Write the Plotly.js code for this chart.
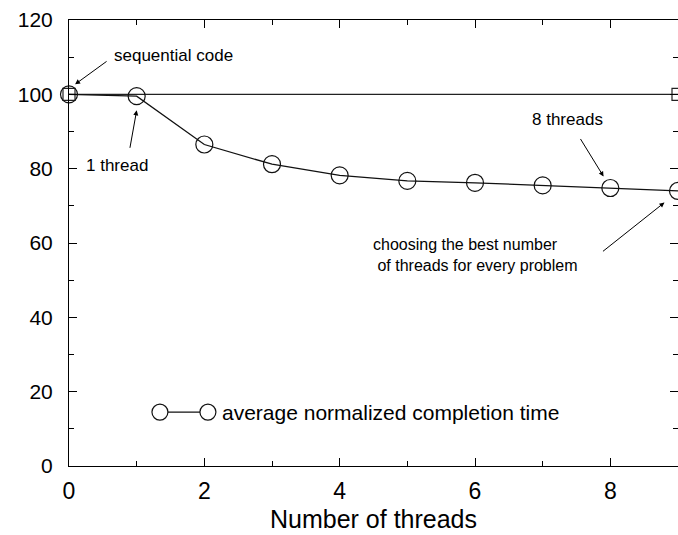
<!DOCTYPE html>
<html>
<head>
<meta charset="utf-8">
<script src="https://cdn.plot.ly/plotly-3.0.1.min.js"></script>
<style>html,body{margin:0;padding:0;background:#fff;}#chart{width:678px;height:535px;}</style>
</head>
<body>
<div id="chart"></div>
<script>
// Data
const threads = [0, 1, 2, 3, 4, 5, 6, 7, 8, 9];
const avgTime = [100, 99.5, 86.5, 81.2, 78.2, 76.7, 76.2, 75.5, 74.8, 74.0];
const seqX = [0, 9];
const seqY = [100, 100];
const xTicks = [0, 2, 4, 6, 8];
const yTicks = [0, 20, 40, 60, 80, 100, 120];
const legendLabel = "average normalized completion time";

const FONT = "Liberation Sans, Arial, Helvetica, sans-serif";

const traces = [
  {
    x: seqX, y: seqY, type: "scatter", mode: "lines+markers",
    name: "sequential code",
    line: {color: "#222", width: 1.3},
    marker: {symbol: "square-open", size: 12, color: "#222", line: {width: 1.2}},
    showlegend: false, cliponaxis: false, hoverinfo: "skip"
  },
  {
    x: threads, y: avgTime, type: "scatter", mode: "lines+markers",
    name: legendLabel,
    line: {color: "#111", width: 1.3},
    marker: {symbol: "circle-open", size: 17, color: "#111", line: {width: 1.2}},
    showlegend: false, cliponaxis: false, hoverinfo: "skip"
  }
];

const txt = (text, x, y, size, opts) => Object.assign({
  text: text, x: x, y: y, xref: "x", yref: "y", showarrow: false,
  font: {family: FONT, size: size, color: "#000"}
}, opts || {});
const arr = (x, y, ax, ay) => ({
  text: "", x: x, y: y, xref: "x", yref: "y", showarrow: true,
  ax: ax, ay: ay, arrowhead: 2, arrowsize: 1, arrowwidth: 1, arrowcolor: "#000",
  standoff: 0
});

const annotations = [
  txt("sequential code", 1.55, 110.5, 17),
  arr(0.09, 102.7, 33, -24),
  txt("1 thread", 0.71, 80.9, 17),
  arr(1.0, 95.7, -7, 39),
  txt("8 threads", 7.36, 93.3, 17),
  arr(7.9, 77.9, -24, -39),
  txt("choosing the best number<br> of threads for every problem", 4.46, 56.7, 16,
      {xanchor: "left", align: "left"}),
  arr(8.8, 70.9, -63, 50),
  txt(legendLabel, 2.23, 14.5, 21, {xanchor: "left"})
];

const shapes = [
  {type: "line", xref: "x", yref: "y", x0: 1.344, x1: 2.053, y0: 14.5, y1: 14.5,
   line: {color: "#111", width: 1.3}},
  {type: "circle", xref: "x", yref: "y", xsizemode: "pixel", ysizemode: "pixel",
   xanchor: 1.344, yanchor: 14.5, x0: -8, x1: 8, y0: -8, y1: 8,
   fillcolor: "#fff", line: {color: "#111", width: 1.2}},
  {type: "circle", xref: "x", yref: "y", xsizemode: "pixel", ysizemode: "pixel",
   xanchor: 2.053, yanchor: 14.5, x0: -8, x1: 8, y0: -8, y1: 8,
   fillcolor: "#fff", line: {color: "#111", width: 1.2}}
];

const layout = {
  width: 678, height: 535,
  margin: {l: 69, r: 0, t: 20, b: 69},
  paper_bgcolor: "#fff", plot_bgcolor: "#fff",
  font: {family: FONT, color: "#000"},
  showlegend: false,
  xaxis: {
    range: [0, 9], tickvals: xTicks, ticktext: xTicks.map(String),
    ticks: "inside", ticklen: 8, tickwidth: 1, tickcolor: "#000",
    minor: {dtick: 1, ticks: "inside", ticklen: 5, tickwidth: 1, tickcolor: "#000"},
    showline: true, linecolor: "#000", linewidth: 1, mirror: "ticks",
    showgrid: false, zeroline: false,
    tickfont: {family: FONT, size: 23, color: "#000"},
    ticklabelstandoff: 4,
    title: {text: "Number of threads", font: {family: FONT, size: 25, color: "#000"}, standoff: 7}
  },
  yaxis: {
    range: [0, 120], tickvals: yTicks, ticktext: yTicks.map(String),
    ticks: "inside", ticklen: 8, tickwidth: 1, tickcolor: "#000",
    minor: {dtick: 10, ticks: "inside", ticklen: 5, tickwidth: 1, tickcolor: "#000"},
    showline: true, linecolor: "#000", linewidth: 1, mirror: "ticks",
    showgrid: false, zeroline: false,
    tickfont: {family: FONT, size: 21, color: "#000"},
    ticklabelstandoff: 11
  },
  annotations: annotations,
  shapes: shapes
};

Plotly.newPlot("chart", traces, layout, {displayModeBar: false, staticPlot: true});
</script>
</body>
</html>
